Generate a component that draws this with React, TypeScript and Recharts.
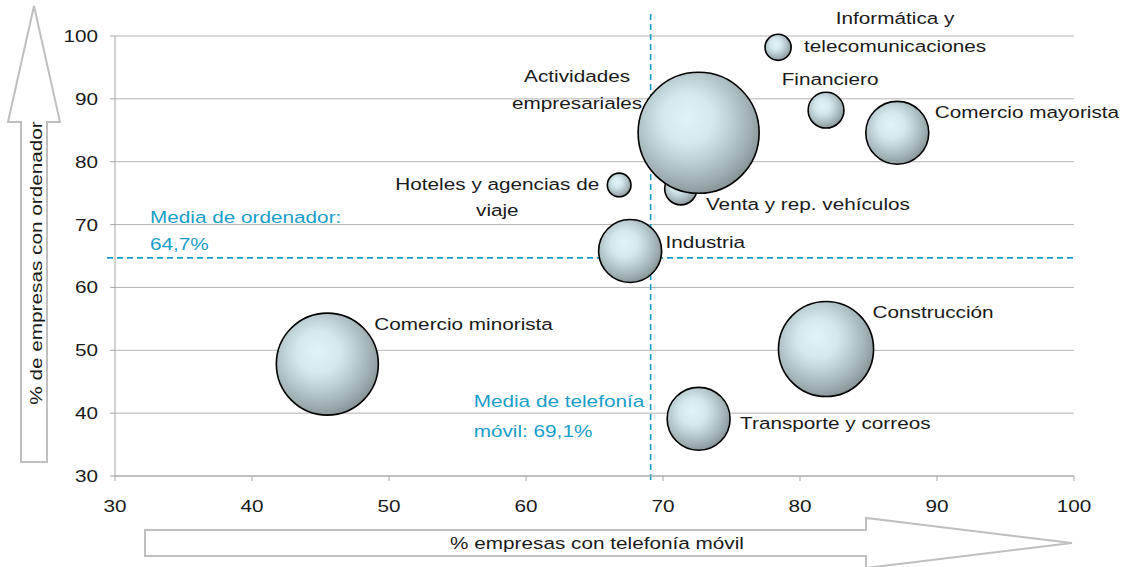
import {
  ScatterChart,
  Scatter,
  XAxis,
  YAxis,
  ZAxis,
  CartesianGrid,
  ReferenceLine,
} from 'recharts';

// sectors, drawn in this order (Venta sits under Actividades)
const sectores = [
  'Informática y telecomunicaciones',
  'Financiero',
  'Comercio mayorista',
  'Hoteles y agencias de viaje',
  'Venta y rep. vehículos',
  'Actividades empresariales',
  'Industria',
  'Comercio minorista',
  'Construcción',
  'Transporte y correos',
];
const telefoniaMovil = [78.4, 81.9, 87.1, 66.8, 71.3, 72.6, 67.6, 45.5, 81.9, 72.6];
const conOrdenador = [98.2, 88.2, 84.6, 76.3, 75.7, 84.6, 65.8, 47.8, 50.2, 39.1];
const pesoSector = [17, 32, 99, 14, 26, 366, 99, 260, 226, 99];

const etiquetas = [
  ['Informática y', 'telecomunicaciones'],
  ['Financiero'],
  ['Comercio mayorista'],
  ['Hoteles y agencias de', 'viaje'],
  ['Venta y rep. vehículos'],
  ['Actividades', 'empresariales'],
  ['Industria'],
  ['Comercio minorista'],
  ['Construcción'],
  ['Transporte y correos'],
];

const xTicks = [30, 40, 50, 60, 70, 80, 90, 100];
const yTicks = [30, 40, 50, 60, 70, 80, 90, 100];
const mediaMovil = 69.1;
const mediaOrdenador = 64.7;

const data = sectores.map((name, i) => ({
  name,
  x: telefoniaMovil[i],
  y: conOrdenador[i],
  z: pesoSector[i],
  lines: etiquetas[i],
}));

// where each label sits relative to its bubble (side, offsets, anchor)
const labelPos: Record<string, { side: string; dx: number; dy: number[]; anchor: string }> = {
  'Informática y telecomunicaciones': { side: 'right', dx: 104, dy: [-23, 5], anchor: 'middle' },
  Financiero: { side: 'top', dx: 4, dy: [-7], anchor: 'middle' },
  'Comercio mayorista': { side: 'right', dx: 6, dy: [-15], anchor: 'start' },
  'Hoteles y agencias de viaje': { side: 'left', dx: 110, dy: [5, 31], anchor: 'middle' },
  'Venta y rep. vehículos': { side: 'right', dx: 9, dy: [21], anchor: 'start' },
  'Actividades empresariales': { side: 'left', dx: 61, dy: [-51, -24], anchor: 'middle' },
  Industria: { side: 'right', dx: 4, dy: [-3], anchor: 'start' },
  'Comercio minorista': { side: 'right', dx: -4, dy: [-34], anchor: 'start' },
  Construcción: { side: 'right', dx: -1, dy: [-31], anchor: 'start' },
  'Transporte y correos': { side: 'right', dx: 10, dy: [10], anchor: 'start' },
};

const FONT = '"Liberation Sans", Arial, sans-serif';
const SX = 1.22; // text in the original is a bit wide
const TEAL = '#1a9dc9';
const GRID = '#b3b3b3';

function SText({ x, y, anchor = 'start', fill = '#1a1a1a', rotate, children }: any) {
  const t = `translate(${x},${y})${rotate ? ` rotate(${rotate})` : ''} scale(${SX},1)`;
  return (
    <text transform={t} textAnchor={anchor} fontFamily={FONT} fontSize={17} fill={fill}>
      {children}
    </text>
  );
}

function XTick({ x, y, payload }: any) {
  return <SText x={x} y={y + 12} anchor="middle">{payload.value}</SText>;
}

function YTick({ x, y, payload }: any) {
  return <SText x={x} y={y + 6} anchor="end">{payload.value}</SText>;
}

function Bubble({ cx, cy, width }: any) {
  const r = width / 2;
  return <circle cx={cx} cy={cy} r={r} fill="url(#bubbleFill)" stroke="#000" strokeWidth={1.6} />;
}

function BubbleLabel({ cx, cy, width, payload }: any) {
  const r = width / 2;
  const p = labelPos[payload.name];
  const x = p.side === 'right' ? cx + r + p.dx : p.side === 'left' ? cx - r - p.dx : cx + p.dx;
  const base = p.side === 'top' ? cy - r : cy;
  return (
    <g>
      {payload.lines.map((line: string, i: number) => (
        <SText key={i} x={x} y={base + p.dy[i]} anchor={p.anchor}>{line}</SText>
      ))}
    </g>
  );
}

function VLine({ x1, y1, x2, y2, stroke }: any) {
  const top = Math.min(y1, y2) - 22;
  const bottom = Math.max(y1, y2) + 4;
  return <line x1={x1} x2={x2} y1={top} y2={bottom} stroke={stroke} strokeWidth={1.6} strokeDasharray="6 4" />;
}

function HLine({ x1, y1, x2, y2, stroke }: any) {
  const left = Math.min(x1, x2) - 8;
  const right = Math.max(x1, x2);
  return <line x1={left} x2={right} y1={y1} y2={y2} stroke={stroke} strokeWidth={1.6} strokeDasharray="6 4" />;
}

function MovilLabel({ viewBox }: any) {
  const bottom = viewBox.y + viewBox.height;
  return (
    <g>
      <SText x={viewBox.x - 177} y={bottom - 69} fill={TEAL}>Media de telefonía</SText>
      <SText x={viewBox.x - 177} y={bottom - 39} fill={TEAL}>{`móvil: ${String(mediaMovil).replace('.', ',')}%`}</SText>
    </g>
  );
}

function OrdenadorLabel({ viewBox }: any) {
  return (
    <g>
      <SText x={viewBox.x + 35} y={viewBox.y - 35} fill={TEAL}>Media de ordenador:</SText>
      <SText x={viewBox.x + 35} y={viewBox.y - 8} fill={TEAL}>{`${String(mediaOrdenador).replace('.', ',')}%`}</SText>
    </g>
  );
}

function AxisArrows() {
  return (
    <svg width={1125} height={567} style={{ position: 'absolute', left: 0, top: 0 }}>
      <polygon
        points="34,6 60,122 47,122 47,462 21,462 21,122 8,122"
        fill="#fff"
        stroke="#bfbfbf"
        strokeWidth={2}
      />
      <SText x={42} y={263} anchor="middle" rotate={-90}>% de empresas con ordenador</SText>
      <polygon
        points="145,530 866,530 866,518 1072,543 866,568 866,556 145,556"
        fill="#fff"
        stroke="#bfbfbf"
        strokeWidth={2}
      />
      <SText x={597} y={549} anchor="middle">% empresas con telefonía móvil</SText>
    </svg>
  );
}

export default function App() {
  return (
    <div style={{ position: 'absolute', left: 0, top: 0, width: 1125, height: 567, background: '#fff' }}>
      <AxisArrows />
      <div style={{ position: 'absolute', left: 0, top: 0 }}>
        <ScatterChart width={1125} height={567} margin={{ top: 36, right: 51, bottom: 0, left: 0 }}>
          <defs>
            <radialGradient id="bubbleFill" cx="0.43" cy="0.41" r="0.6" fx="0.4" fy="0.37">
              <stop offset="0%" stopColor="#e2f3f8" />
              <stop offset="35%" stopColor="#d4e8ee" />
              <stop offset="55%" stopColor="#c0d3d8" />
              <stop offset="75%" stopColor="#aabbbf" />
              <stop offset="90%" stopColor="#97a6a9" />
              <stop offset="100%" stopColor="#889699" />
            </radialGradient>
          </defs>
          <CartesianGrid vertical={false} stroke={GRID} />
          <XAxis
            type="number"
            dataKey="x"
            domain={[30, 100]}
            ticks={xTicks}
            interval={0}
            height={91}
            tickSize={5}
            tickMargin={19}
            stroke="#a6a6a6"
            tick={<XTick />}
          />
          <YAxis
            type="number"
            dataKey="y"
            domain={[30, 100]}
            ticks={yTicks}
            interval={0}
            width={115}
            tickSize={5}
            tickMargin={12}
            stroke="#a6a6a6"
            tick={<YTick />}
          />
          <ZAxis type="number" dataKey="z" domain={[0, 366]} range={[0, Math.PI * 60.5 * 60.5]} />
          <ReferenceLine
            x={mediaMovil}
            stroke={TEAL}
            shape={<VLine />}
            label={<MovilLabel />}
          />
          <ReferenceLine
            y={mediaOrdenador}
            stroke={TEAL}
            shape={<HLine />}
            label={<OrdenadorLabel />}
          />
          <Scatter data={data} shape={<Bubble />} isAnimationActive={false} />
          <Scatter data={data} shape={<BubbleLabel />} isAnimationActive={false} />
        </ScatterChart>
      </div>
    </div>
  );
}
